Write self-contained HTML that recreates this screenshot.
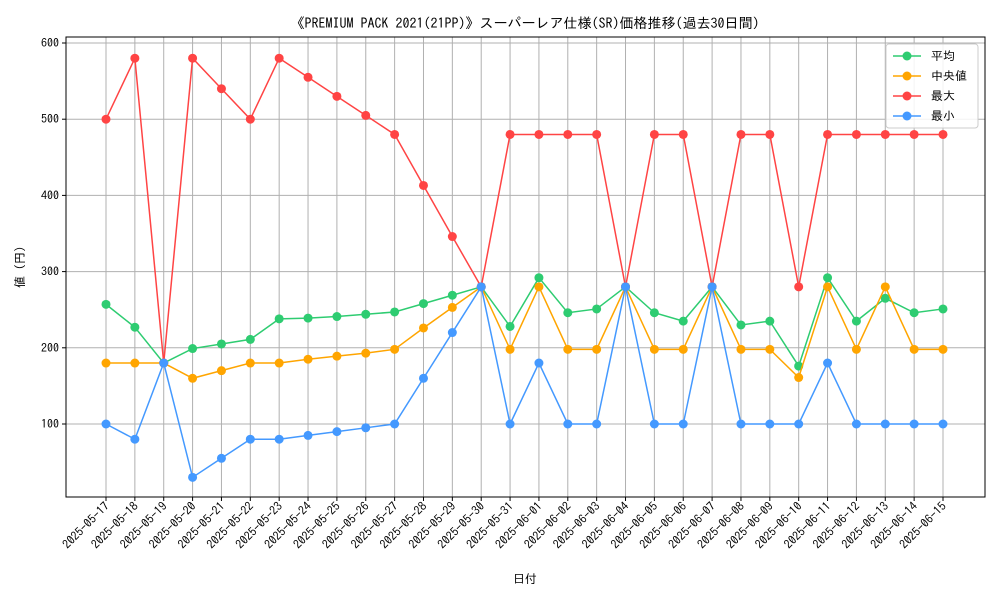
<!DOCTYPE html>
<html><head><meta charset="utf-8"><style>
body{margin:0;background:#fff;}
svg{display:block;font-family:"IPAGothic","Noto Sans CJK JP",monospace;}
</style></head><body>
<svg id="chart" width="1000" height="600">
<text x="525" y="28" text-anchor="middle" font-size="14">《PREMIUM PACK 2021(21PP)》スーパーレア仕様(SR)価格推移(過去30日間)</text>
<text x="525" y="583" text-anchor="middle" font-size="12">日付</text>
<text transform="translate(24,267) rotate(-90)" text-anchor="middle" font-size="12">値 (円)</text>
<g id="grid"></g><g id="series"></g><g id="axes"></g>
</svg>
<script>
const dates=["2025-05-17","2025-05-18","2025-05-19","2025-05-20","2025-05-21","2025-05-22","2025-05-23","2025-05-24","2025-05-25","2025-05-26","2025-05-27","2025-05-28","2025-05-29","2025-05-30","2025-05-31","2025-06-01","2025-06-02","2025-06-03","2025-06-04","2025-06-05","2025-06-06","2025-06-07","2025-06-08","2025-06-09","2025-06-10","2025-06-11","2025-06-12","2025-06-13","2025-06-14","2025-06-15"];
const avgValues=[257,227,180,199,205,211,238,239,241,244,247,258,269,280,228,292,246,251,280,246,235,280,230,235,176,292,235,265,246,251];
const medianValues=[180,180,180,160,170,180,180,185,189,193,198,226,253,280,198,280,198,198,280,198,198,280,198,198,161,280,198,280,198,198];
const maxValues=[500,580,180,580,540,500,580,555,530,505,480,413,346,280,480,480,480,480,280,480,480,280,480,480,280,480,480,480,480,480];
const minValues=[100,80,180,30,55,80,80,85,90,95,100,160,220,280,100,180,100,100,280,100,100,280,100,100,100,180,100,100,100,100];
const yTicks=[100,200,300,400,500,600];
const seriesNames=["平均"," 中央値","最大","最小"];
const NS="http://www.w3.org/2000/svg";
const L=66,R=985,T=37,B=497;
const x0=106,dx=(943-106)/29;
function xs(i){return x0+i*dx;}
function ys(v){return 424-(v-100)*0.762;}
function mk(tag,attrs,parent){const e=document.createElementNS(NS,tag);for(const k in attrs)e.setAttribute(k,attrs[k]);parent.appendChild(e);return e;}
const grid=document.getElementById('grid'),axes=document.getElementById('axes'),ser=document.getElementById('series');
dates.forEach((d,i)=>{
 const g=mk('line',{x1:xs(i),x2:xs(i),y1:T,y2:B,stroke:'#b0b0b0','stroke-width':1},grid);
 
 
 mk('line',{x1:xs(i),x2:xs(i),y1:B,y2:B+4,stroke:'#000'},axes);
 const t=mk('text',{x:xs(i)+4,y:B+10,'text-anchor':'end','font-size':12,transform:`rotate(-45 ${xs(i)+4} ${B+10})`},axes);
 t.textContent=d;
 
 
});
yTicks.forEach(v=>{
 const g=mk('line',{x1:L,x2:R,y1:ys(v),y2:ys(v),stroke:'#b0b0b0','stroke-width':1},grid);
 
 
 mk('line',{x1:L-4,x2:L,y1:ys(v),y2:ys(v),stroke:'#000'},axes);
 const t=mk('text',{x:L-7,y:ys(v)+4,'text-anchor':'end','font-size':12},axes);
 t.textContent=v;
 
 
});
const frame=mk('rect',{x:L,y:T,width:R-L,height:B-T,fill:'none',stroke:'#000','stroke-width':1},axes);


const all=[avgValues,medianValues,maxValues,minValues];
const colors=["#2ecc71","#ffa500","#ff4444","#4499ff"];
const snames=["series-average","series-median","series-max","series-min"];
all.forEach((vals,s)=>{
 const g=mk('g',{},ser);
 
 
 const p=mk('polyline',{points:vals.map((v,i)=>xs(i)+','+ys(v)).join(' '),fill:'none',stroke:colors[s],'stroke-width':1.5},g);
 
 
 vals.forEach((v,i)=>{
  const c=mk('circle',{cx:xs(i),cy:ys(v),r:4.5,fill:colors[s]},g);
  
  
 });
});
const lg=mk('g',{},axes);


mk('rect',{x:886,y:44,width:92,height:84,rx:3,fill:'#fff','fill-opacity':0.85,stroke:'#ccc'},lg);
seriesNames.forEach((n,s)=>{
 const y=56+s*20;
 const e=mk('g',{},lg);
 
 
 mk('line',{x1:893,x2:921,y1:y,y2:y,stroke:colors[s],'stroke-width':1.5},e);
 mk('circle',{cx:907,cy:y,r:4.5,fill:colors[s]},e);
 const t=mk('text',{x:931,y:y+4,'font-size':12,'xml:space':'preserve'},e);
 t.textContent=n;
});
</script>
</body></html>
